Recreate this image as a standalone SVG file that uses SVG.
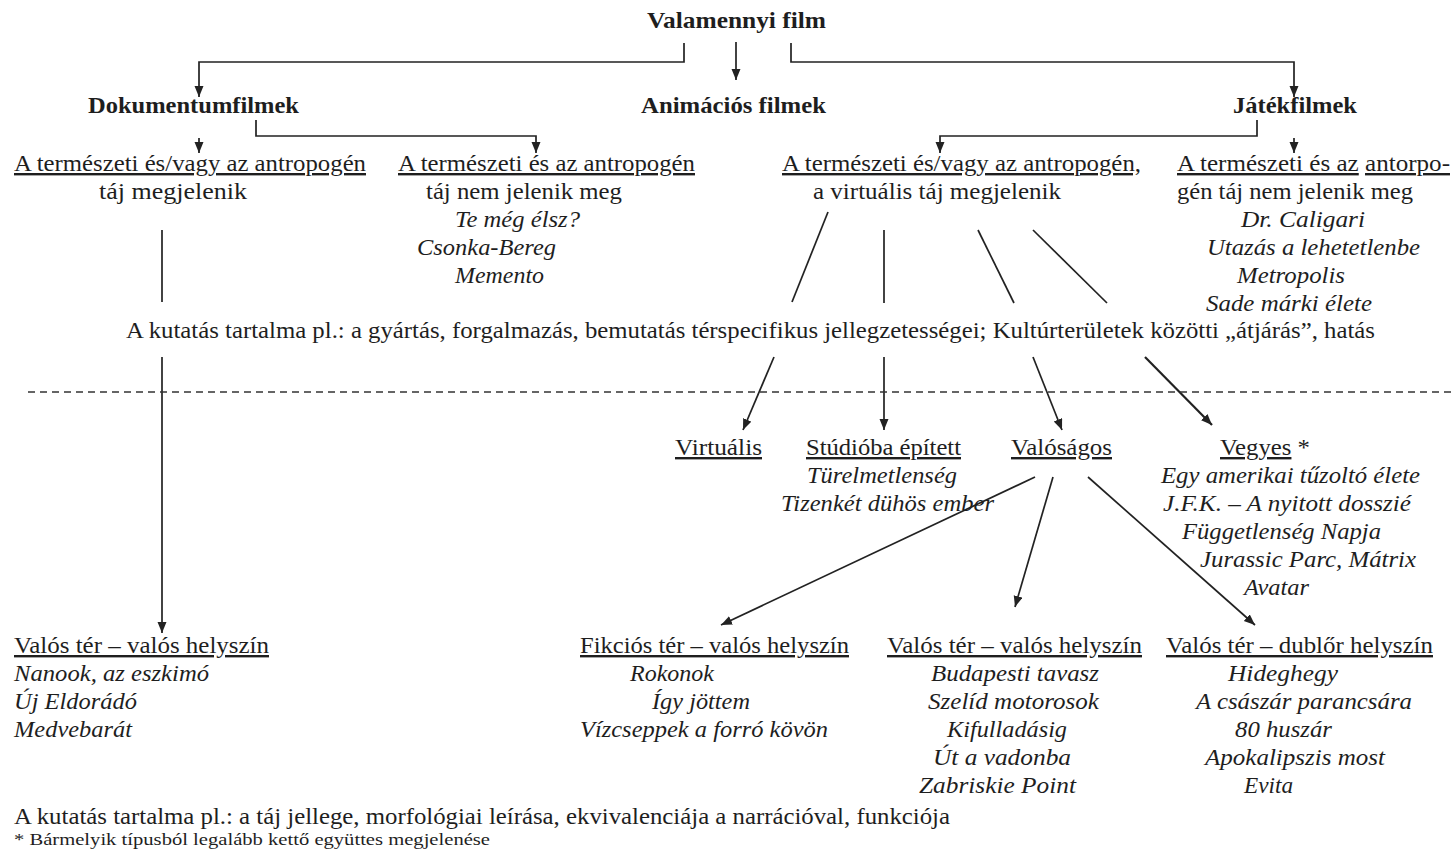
<svg xmlns="http://www.w3.org/2000/svg" width="1453" height="851" viewBox="0 0 1453 851">
<style>
.t{font-family:"Liberation Serif","Times New Roman",serif;font-size:24px;fill:#1e1e1e}
.b{font-weight:bold}
.i{font-style:italic}
.u{text-decoration:underline}
.s{font-size:16px}
.c{stroke:#222;stroke-width:1.7;fill:none}
.a{marker-end:url(#arr)}
.d{stroke:#333;stroke-width:1.5;stroke-dasharray:7 5;fill:none}
</style>
<defs>
<marker id="arr" markerUnits="userSpaceOnUse" markerWidth="12" markerHeight="10" refX="11" refY="4.5" orient="auto">
<path d="M0,0 L11,4.5 L0,9 z" fill="#222"/>
</marker>
</defs>
<rect width="1453" height="851" fill="#fff"/>

<g id="connectors">
<path class="c a" d="M684,43 V62 H199 V97"/>
<path class="c a" d="M736,42 V80"/>
<path class="c a" d="M791,43 V62 H1294 V97"/>
<path class="c a" d="M199,138 V153"/>
<path class="c a" d="M256,120 V136 H536 V153"/>
<path class="c a" d="M1257,120 V136 H940 V153"/>
<path class="c a" d="M1294,138 V153"/>
<path class="c" d="M162,230 V302"/>
<path class="c a" d="M162,357 V633"/>
<path class="c" d="M828,212 L792,302"/>
<path class="c" d="M884,230 V303"/>
<path class="c" d="M978,230 L1014,303"/>
<path class="c" d="M1033,230 L1107,303"/>
<path class="c a" d="M774,357 L743,430"/>
<path class="c a" d="M884,357 V430"/>
<path class="c a" d="M1033,357 L1062,430"/>
<path class="c a" d="M1145,357 L1212,425" style="stroke-width:2.2"/>
<path class="c a" d="M1035,477 L721,625"/>
<path class="c a" d="M1053,477 L1015,607"/>
<path class="c a" d="M1088,477 L1255,625"/>
</g>

<g id="divider">
<path class="d" d="M28,392 H1453"/>
</g>

<g id="n-all">
<text class="t b" x="647" y="28" textLength="179" lengthAdjust="spacingAndGlyphs">Valamennyi film</text>
</g>
<g id="n-doc">
<text class="t b" x="88" y="113" textLength="211" lengthAdjust="spacingAndGlyphs">Dokumentumfilmek</text>
</g>
<g id="n-anim">
<text class="t b" x="641" y="113" textLength="185" lengthAdjust="spacingAndGlyphs">Animációs filmek</text>
</g>
<g id="n-jatek">
<text class="t b" x="1233" y="113" textLength="124" lengthAdjust="spacingAndGlyphs">Játékfilmek</text>
</g>

<g id="n-doc-yes">
<text class="t u" x="14" y="171" textLength="352" lengthAdjust="spacingAndGlyphs">A természeti és/vagy az antropogén</text>
<text class="t" x="99" y="199" textLength="148" lengthAdjust="spacingAndGlyphs">táj megjelenik</text>
</g>
<g id="n-doc-no">
<text class="t u" x="398" y="171" textLength="297" lengthAdjust="spacingAndGlyphs">A természeti és az antropogén</text>
<text class="t" x="426" y="199" textLength="196" lengthAdjust="spacingAndGlyphs">táj nem jelenik meg</text>
<text class="t i" x="455" y="227" textLength="125" lengthAdjust="spacingAndGlyphs">Te még élsz?</text>
<text class="t i" x="417" y="255" textLength="139" lengthAdjust="spacingAndGlyphs">Csonka-Bereg</text>
<text class="t i" x="455" y="283" textLength="89" lengthAdjust="spacingAndGlyphs">Memento</text>
</g>
<g id="n-jat-yes">
<text class="t u" x="782" y="171" textLength="359" lengthAdjust="spacingAndGlyphs">A természeti és/vagy az antropogén,</text>
<text class="t" x="813" y="199" textLength="248" lengthAdjust="spacingAndGlyphs">a virtuális táj megjelenik</text>
</g>
<g id="n-jat-no">
<text class="t" x="1177" y="171" textLength="273" lengthAdjust="spacingAndGlyphs"><tspan class="u">A természeti és az</tspan> <tspan class="u">antorpo-</tspan></text>
<text class="t" x="1177" y="199" textLength="236" lengthAdjust="spacingAndGlyphs">gén táj nem jelenik meg</text>
<text class="t i" x="1241" y="227" textLength="124" lengthAdjust="spacingAndGlyphs">Dr. Caligari</text>
<text class="t i" x="1207" y="255" textLength="213" lengthAdjust="spacingAndGlyphs">Utazás a lehetetlenbe</text>
<text class="t i" x="1237" y="283" textLength="108" lengthAdjust="spacingAndGlyphs">Metropolis</text>
<text class="t i" x="1206" y="311" textLength="166" lengthAdjust="spacingAndGlyphs">Sade márki élete</text>
</g>

<g id="n-research1">
<text class="t" x="126" y="338" textLength="1249" lengthAdjust="spacingAndGlyphs">A kutatás tartalma pl.: a gyártás, forgalmazás, bemutatás térspecifikus jellegzetességei; Kultúrterületek közötti „átjárás”, hatás</text>
</g>

<g id="n-virtual">
<text class="t u" x="675" y="455" textLength="87" lengthAdjust="spacingAndGlyphs">Virtuális</text>
</g>
<g id="n-studio">
<text class="t u" x="806" y="455" textLength="155" lengthAdjust="spacingAndGlyphs">Stúdióba épített</text>
<text class="t i" x="807" y="483" textLength="150" lengthAdjust="spacingAndGlyphs">Türelmetlenség</text>
<text class="t i" x="781" y="511" textLength="213" lengthAdjust="spacingAndGlyphs">Tizenkét dühös ember</text>
</g>
<g id="n-valosagos">
<text class="t u" x="1011" y="455" textLength="101" lengthAdjust="spacingAndGlyphs">Valóságos</text>
</g>
<g id="n-vegyes">
<text class="t" x="1220" y="455" textLength="90" lengthAdjust="spacingAndGlyphs"><tspan class="u">Vegyes</tspan> *</text>
<text class="t i" x="1161" y="483" textLength="259" lengthAdjust="spacingAndGlyphs">Egy amerikai tűzoltó élete</text>
<text class="t i" x="1163" y="511" textLength="248" lengthAdjust="spacingAndGlyphs">J.F.K. – A nyitott dosszié</text>
<text class="t i" x="1182" y="539" textLength="199" lengthAdjust="spacingAndGlyphs">Függetlenség Napja</text>
<text class="t i" x="1200" y="567" textLength="216" lengthAdjust="spacingAndGlyphs">Jurassic Parc, Mátrix</text>
<text class="t i" x="1244" y="595" textLength="65" lengthAdjust="spacingAndGlyphs">Avatar</text>
</g>

<g id="n-doc-real">
<text class="t u" x="14" y="653" textLength="255" lengthAdjust="spacingAndGlyphs">Valós tér – valós helyszín</text>
<text class="t i" x="14" y="681" textLength="195" lengthAdjust="spacingAndGlyphs">Nanook, az eszkimó</text>
<text class="t i" x="14" y="709" textLength="123" lengthAdjust="spacingAndGlyphs">Új Eldorádó</text>
<text class="t i" x="14" y="737" textLength="118" lengthAdjust="spacingAndGlyphs">Medvebarát</text>
</g>
<g id="n-fict-real">
<text class="t u" x="580" y="653" textLength="269" lengthAdjust="spacingAndGlyphs">Fikciós tér – valós helyszín</text>
<text class="t i" x="630" y="681" textLength="84" lengthAdjust="spacingAndGlyphs">Rokonok</text>
<text class="t i" x="652" y="709" textLength="98" lengthAdjust="spacingAndGlyphs">Így jöttem</text>
<text class="t i" x="580" y="737" textLength="248" lengthAdjust="spacingAndGlyphs">Vízcseppek a forró kövön</text>
</g>
<g id="n-real-real">
<text class="t u" x="887" y="653" textLength="255" lengthAdjust="spacingAndGlyphs">Valós tér – valós helyszín</text>
<text class="t i" x="931" y="681" textLength="168" lengthAdjust="spacingAndGlyphs">Budapesti tavasz</text>
<text class="t i" x="928" y="709" textLength="171" lengthAdjust="spacingAndGlyphs">Szelíd motorosok</text>
<text class="t i" x="947" y="737" textLength="120" lengthAdjust="spacingAndGlyphs">Kifulladásig</text>
<text class="t i" x="933" y="765" textLength="138" lengthAdjust="spacingAndGlyphs">Út a vadonba</text>
<text class="t i" x="919" y="793" textLength="157" lengthAdjust="spacingAndGlyphs">Zabriskie Point</text>
</g>
<g id="n-real-double">
<text class="t u" x="1166" y="653" textLength="267" lengthAdjust="spacingAndGlyphs">Valós tér – dublőr helyszín</text>
<text class="t i" x="1228" y="681" textLength="110" lengthAdjust="spacingAndGlyphs">Hideghegy</text>
<text class="t i" x="1196" y="709" textLength="216" lengthAdjust="spacingAndGlyphs">A császár parancsára</text>
<text class="t i" x="1235" y="737" textLength="97" lengthAdjust="spacingAndGlyphs">80 huszár</text>
<text class="t i" x="1205" y="765" textLength="180" lengthAdjust="spacingAndGlyphs">Apokalipszis most</text>
<text class="t i" x="1244" y="793" textLength="49" lengthAdjust="spacingAndGlyphs">Evita</text>
</g>

<g id="n-research2">
<text class="t" x="14" y="824" textLength="936" lengthAdjust="spacingAndGlyphs">A kutatás tartalma pl.: a táj jellege, morfológiai leírása, ekvivalenciája a narrációval, funkciója</text>
</g>
<g id="n-footnote">
<text class="t s" x="14" y="845" textLength="476" lengthAdjust="spacingAndGlyphs">* Bármelyik típusból legalább kettő együttes megjelenése</text>
</g>
</svg>
